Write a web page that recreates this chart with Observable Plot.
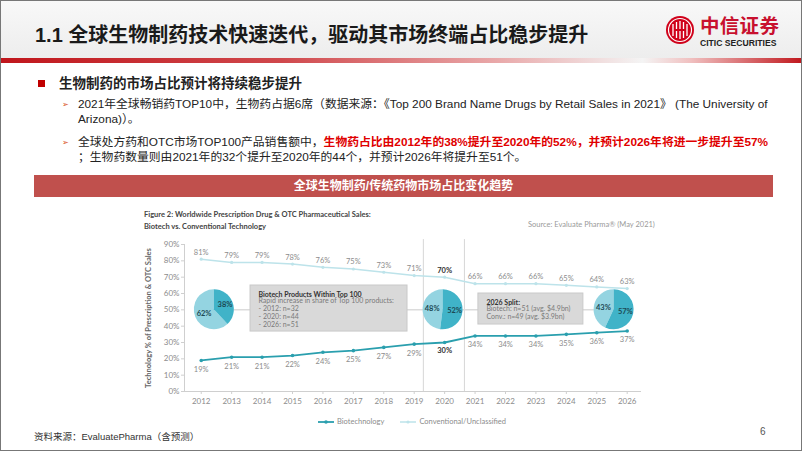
<!DOCTYPE html>
<html><head><meta charset="utf-8">
<script src="https://cdn.jsdelivr.net/npm/d3@7"></script>
<script src="https://cdn.jsdelivr.net/npm/@observablehq/plot@0.6"></script>
<style>
body{margin:0;width:802px;height:451px;overflow:hidden;background:#fff;font-family:"Liberation Sans","Noto Sans CJK SC",sans-serif;}
#slide{position:relative;width:802px;height:451px;box-sizing:border-box;border:1px solid #777;overflow:hidden;}
.abs{position:absolute;white-space:nowrap;}
.cjk{font-family:"Liberation Sans","Noto Sans CJK SC",sans-serif;}
.lato{font-family:Lato,"Open Sans",sans-serif;}
</style></head><body>
<div id="slide">
  <div class="abs" style="left:0;top:0;width:802px;height:57px;background:linear-gradient(#f8f8f8,#ededed);"></div>
  <div class="abs" style="left:0;top:57px;width:802px;height:5px;background:linear-gradient(to right,#c0161c 0%,#d0484c 35%,#e9a9aa 62%,#f4f4f4 80%,#f0c0c0 86%,#c0161c 100%);"></div>
  <div class="abs cjk" style="left:34px;top:21px;font-size:20px;line-height:26px;font-weight:bold;color:#1a1a1a;">1.1 全球生物制药技术快速迭代，驱动其市场终端占比稳步提升</div>
  <svg class="abs" style="left:664px;top:14px" width="30" height="30" viewBox="0 0 30 30">
    <circle cx="15" cy="15" r="14" fill="#d0021b"/>
    <circle cx="15" cy="15" r="11.5" fill="none" stroke="#fff" stroke-width="1.2"/>
    <path d="M8 9v12M11.5 7v16M15 6v18M18.5 7v16M22 9v12" stroke="#fff" stroke-width="1.3" fill="none"/>
    <path d="M9.5 15h11" stroke="#d0021b" stroke-width="2"/>
  </svg>
  <div class="abs" style="left:699px;top:12px;font-family:'Noto Sans CJK SC';font-size:19.5px;line-height:23px;font-weight:bold;color:#c8102e;letter-spacing:0.3px;">中信证券</div>
  <div class="abs" style="left:699px;top:37px;font-family:'Liberation Sans';font-size:8.6px;line-height:10px;font-weight:bold;color:#222;">CITIC SECURITIES</div>

  <div class="abs" style="left:37px;top:79px;width:7px;height:7px;background:#c00000;"></div>
  <div class="abs cjk" style="left:58px;top:74px;font-size:13.5px;line-height:18px;font-weight:bold;color:#222;">生物制药的市场占比预计将持续稳步提升</div>
  <div class="abs" style="left:61px;top:99px;font-family:'DejaVu Sans';font-size:8px;line-height:10px;color:#d9541e;">➢</div>
  <div class="abs cjk" style="left:77px;top:96px;font-size:11.8px;line-height:15px;color:#222;">2021年全球畅销药TOP10中，生物药占据6席（数据来源：《Top 200 Brand Name Drugs by Retail Sales in 2021》 (The University of</div>
  <div class="abs cjk" style="left:77px;top:111px;font-size:11.8px;line-height:15px;color:#222;">Arizona)）。</div>
  <div class="abs" style="left:61px;top:137px;font-family:'DejaVu Sans';font-size:8px;line-height:10px;color:#d9541e;">➢</div>
  <div class="abs cjk" style="left:77px;top:134px;font-size:11.8px;line-height:15px;color:#222;">全球处方药和OTC市场TOP100产品销售额中，<span style="color:#e00000;font-weight:bold;">生物药占比由2012年的38%提升至2020年的52%，并预计2026年将进一步提升至57%</span></div>
  <div class="abs cjk" style="left:77px;top:149px;font-size:11.8px;line-height:15px;color:#222;">；生物药数量则由2021年的32个提升至2020年的44个，并预计2026年将提升至51个。</div>

  <div class="abs cjk" style="left:33px;top:174px;width:739px;height:22px;background:#c0504d;color:#fff;font-size:12px;line-height:22px;font-weight:bold;text-align:center;">全球生物制药/传统药物市场占比变化趋势</div>

  <div class="abs lato" style="left:143px;top:208px;font-size:7.5px;line-height:11.5px;font-weight:bold;color:#444;">Figure 2: Worldwide Prescription Drug &amp; OTC Pharmaceutical Sales:<br>Biotech vs. Conventional Technology</div>
  <div class="abs lato" style="left:527px;top:219px;font-size:7.5px;line-height:10px;color:#9a9a9a;">Source: Evaluate Pharma® (May 2021)</div>

  <div id="chart" class="abs" style="left:130px;top:200px;"></div>

  <div class="abs lato" style="left:316px;top:416px;font-size:7.5px;line-height:10px;color:#8c8c8c;display:flex;align-items:center;">
    <svg width="18" height="8"><line x1="1" y1="4" x2="17" y2="4" stroke="#2a9fae" stroke-width="1.8"/><circle cx="9" cy="4" r="1.8" fill="#2a9fae"/></svg>
    <span style="margin-left:2px;">Biotechnology</span>
    <svg width="18" height="8" style="margin-left:15px;"><line x1="1" y1="4" x2="17" y2="4" stroke="#bde3ea" stroke-width="1.5"/><circle cx="9" cy="4" r="1.6" fill="#bde3ea"/></svg>
    <span style="margin-left:2px;">Conventional/Unclassified</span>
  </div>

  <div class="abs cjk" style="left:33px;top:430px;font-size:9.5px;line-height:12px;color:#333;">资料来源：EvaluatePharma（含预测）</div>
  <div class="abs" style="left:759px;top:425px;font-family:'Liberation Sans';font-size:10px;line-height:12px;color:#555;">6</div>
</div>
<script>
// ---- data ----
const years = [2012,2013,2014,2015,2016,2017,2018,2019,2020,2021,2022,2023,2024,2025,2026];
const biotech = [19,21,21,22,24,25,27,29,30,34,34,34,35,36,37];
const conventional = [81,79,79,78,76,75,73,71,70,66,66,66,65,64,63];
const yTicks = [0,10,20,30,40,50,60,70,80,90];
const highlightYear = 2020;
const pieLabels = ["2012","2020","2026"];
const pieX = [2012.43,2019.95,2025.57];
const pieBiotech = [38,52,57];
const dividerYears = [2019.3,2020.65];
const boxTitles = ["Biotech Products Within Top 100","2026 Split:"];
const boxBodies = ["Rapid increase in share of Top 100 products:\n- 2012: n=32\n- 2020: n=44\n- 2026: n=51",
                   "Biotech: n=51 (avg. $4.9bn)\nConv.: n=49 (avg. $3.9bn)"];
const boxX1 = [2013.62,2021.11];
const boxX2 = [2018.78,2024.56];
const boxYBottom = [36.7,41];
const boxYTop = [64.9,60];
const yTitle = "Technology % of Prescription & OTC Sales";

const rows = years.map((year,i)=>({year, biotech:biotech[i], conventional:conventional[i]}));
const boxes = boxTitles.map((t,i)=>({title:t, body:boxBodies[i], x1:boxX1[i], x2:boxX2[i], y1:boxYBottom[i], y2:boxYTop[i]}));
const pies = pieLabels.map((label,i)=>({label, x:pieX[i], bio:pieBiotech[i]}));

const bioColor = "#2a9fae", convColor = "#bde3ea";
const bioPie = "#40b3c8", convPie = "#94d4e1";
const labelGray = "#8c8c8c";
const F = "Lato, 'Open Sans', sans-serif";

function pieMark(index, scales) {
  const g = d3.create("svg:g");
  const R = 20;
  const arc = d3.arc().innerRadius(0).outerRadius(R);
  for (const p of pies) {
    const cx = scales.x(p.x), cy = scales.y(50);
    const b = p.bio/100*2*Math.PI;
    const gg = g.append("g").attr("transform", `translate(${cx},${cy})`);
    gg.append("path").attr("d", arc({startAngle:b, endAngle:2*Math.PI})).attr("fill", convPie);
    gg.append("path").attr("d", arc({startAngle:0, endAngle:b})).attr("fill", bioPie);
    const mb = b/2, mc = (b+2*Math.PI)/2;
    const lab = (a, r, t) => gg.append("text")
      .attr("x", r*Math.sin(a)).attr("y", -r*Math.cos(a))
      .attr("text-anchor","middle").attr("dominant-baseline","central")
      .attr("font-family", F).attr("font-size", 7.5).attr("font-weight","bold")
      .attr("fill","#1c4a55").text(t);
    lab(mb, 12, p.bio + "%");
    lab(mc, 10.5, (100-p.bio) + "%");
  }
  return g.node();
}

const chart = Plot.plot({
  width: 540, height: 230,
  marginLeft: 53, marginRight: 30, marginTop: 43, marginBottom: 40,
  x: {domain: [2011.45, 2026.47]},
  y: {domain: [0, 90]},
  style: {fontFamily: F, fontSize: "8px", color: labelGray, background: "transparent", overflow: "visible"},
  marks: [
    Plot.ruleX(dividerYears, {y1: 0, y2: 93, stroke: "#d6d6d6", strokeWidth: 1}),
    Plot.ruleY([50], {x1: pieX[0], x2: pieX[pieX.length-1], stroke: "#dcdcdc", strokeWidth: 1.5}),
    Plot.rect(boxes, {x1: "x1", x2: "x2", y1: "y1", y2: "y2", fill: "#d9d9d9", stroke: "#c9c9c9", strokeWidth: 1}),
    Plot.text(boxes, {x: "x1", y: "y2", text: "title", textAnchor: "start", lineAnchor: "middle", dx: 8, dy: 9, fontSize: 7, fontWeight: "bold", fill: "#333"}),
    Plot.text(boxes, {x: "x1", y: "y2", text: "body", textAnchor: "start", lineAnchor: "top", dx: 8, dy: 12.5, fontSize: 7, lineHeight: 1.1, fill: "#7a7a7a"}),
    pieMark,
    Plot.axisY({ticks: yTicks, tickFormat: d => d + "%", tickSize: 3, tickPadding: 2, stroke: "#cfcfcf", fill: labelGray, fontSize: 8, label: null}),
    Plot.axisX({ticks: years, tickFormat: d => String(d), tickSize: 3, tickPadding: 4, stroke: "#cfcfcf", fill: labelGray, fontSize: 8, label: null}),
    Plot.ruleY([0], {stroke: "#cfcfcf"}),
    Plot.ruleX([2011.45], {y1: 0, y2: 90, stroke: "#cfcfcf"}),
    Plot.line(rows, {x: "year", y: "conventional", stroke: convColor, strokeWidth: 1.5}),
    Plot.dot(rows, {x: "year", y: "conventional", r: 1.6, fill: convColor}),
    Plot.line(rows, {x: "year", y: "biotech", stroke: bioColor, strokeWidth: 1.8}),
    Plot.dot(rows, {x: "year", y: "biotech", r: 1.8, fill: bioColor}),
    Plot.text(rows.filter(d => d.year !== highlightYear), {x: "year", y: "conventional", text: d => d.conventional + "%", dy: -7, fontSize: 7.5, fill: labelGray}),
    Plot.text(rows.filter(d => d.year !== highlightYear), {x: "year", y: "biotech", text: d => d.biotech + "%", dy: 9, fontSize: 7.5, fill: labelGray}),
    Plot.text(rows.filter(d => d.year === highlightYear), {x: "year", y: "conventional", text: d => d.conventional + "%", dy: -7, fontSize: 7.5, fontWeight: "bold", fill: "#333"}),
    Plot.text(rows.filter(d => d.year === highlightYear), {x: "year", y: "biotech", text: d => d.biotech + "%", dy: 8, fontSize: 7.5, fontWeight: "bold", fill: "#333"}),
    Plot.text([yTitle], {frameAnchor: "left", text: d => d, textAnchor: "middle", rotate: -90, dx: -36, fontSize: 7.5, fontWeight: "bold", fill: "#666"})
  ]
});
document.getElementById("chart").appendChild(chart);
</script>
</body></html>
